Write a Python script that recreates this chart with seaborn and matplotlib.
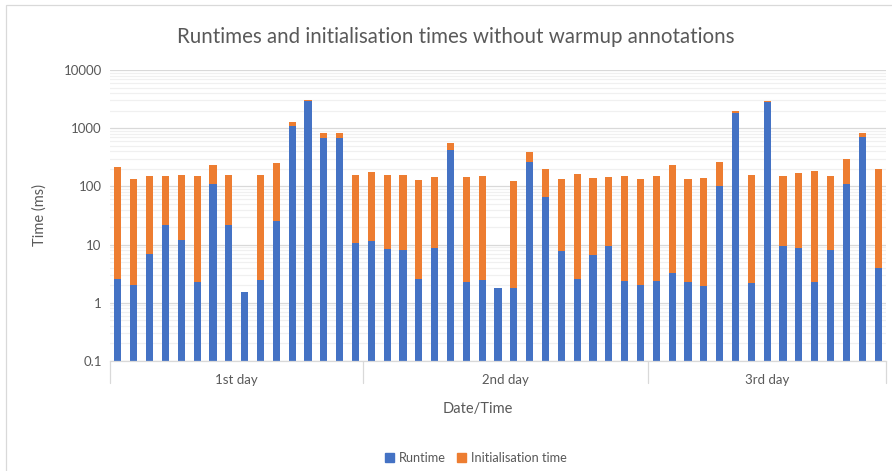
import matplotlib

matplotlib.use("Agg")
import matplotlib.pyplot as plt
import matplotlib.transforms as mtransforms
from matplotlib.patches import Rectangle
from matplotlib.ticker import LogLocator, FixedLocator, FixedFormatter
import pandas as pd
import seaborn as sns

# values (ms)
days = ["1st day", "2nd day", "3rd day"]
runs_per_day = [16, 18, 15]

runtime = [
    2.56, 2.04, 6.9, 22.1, 11.9, 2.24, 111, 21.5, 1.53, 2.43, 25.9, 1097, 2884, 690, 672, 10.7,
    11.7, 8.4, 8.2, 2.56, 8.9, 418, 2.27, 2.49, 1.81, 1.81, 266, 64.6, 7.9, 2.56, 6.7, 9.5, 2.36, 2.04,
    2.33, 3.25, 2.24, 1.94, 103, 1790, 2.18, 2806, 9.6, 8.8, 2.30, 8.2, 108, 700, 3.96,
]
init_time = [
    210, 130, 144, 131, 143, 149, 125, 137, 0, 153, 223, 206, 116, 152, 148, 148,
    167, 147, 149, 124, 134, 133, 145, 149, 0, 123, 125, 134, 126, 158, 134, 137, 149, 134,
    151, 233, 134, 139, 160, 148, 157, 114, 141, 161, 182, 143, 192, 131, 198,
]
y_ticks = [0.1, 1, 10, 100, 1000, 10000]
y_tick_labels = ["0.1", "1", "10", "100", "1000", "10000"]

BLUE = "#4472C4"
ORANGE = "#ED7D31"
TEXT = "#595959"

sns.set_theme(style="white")
plt.rcParams["font.family"] = ["Lato", "DejaVu Sans"]

df = pd.DataFrame({"run": range(len(runtime)), "runtime": runtime, "init": init_time})
df["total"] = df["runtime"] + df["init"]

fig = plt.figure(figsize=(8.92, 4.71), dpi=100)
ax = fig.add_axes([110 / 892, 1 - 361 / 471, 776 / 892, 291 / 471])

sns.barplot(data=df, x="run", y="total", color=ORANGE, width=0.45, saturation=1,
            linewidth=0, ax=ax)
sns.barplot(data=df, x="run", y="runtime", color=BLUE, width=0.45, saturation=1,
            linewidth=0, ax=ax)

ax.set_yscale("log")
ax.set_ylim(0.1, 10000)
ax.set_xlim(-0.5, len(runtime) - 0.5)
ax.yaxis.set_major_locator(FixedLocator(y_ticks))
ax.yaxis.set_major_formatter(FixedFormatter(y_tick_labels))
ax.yaxis.set_minor_locator(LogLocator(base=10, subs=range(2, 10)))
ax.yaxis.set_minor_formatter(FixedFormatter([]))
ax.grid(True, which="major", axis="y", color="#D9D9D9", linewidth=0.9)
ax.grid(True, which="minor", axis="y", color="#F0F0F0", linewidth=0.9)
ax.set_axisbelow(True)
ax.set_xticks([])
ax.set_xlabel("")
ax.set_ylabel("")
ax.tick_params(axis="y", length=0, labelsize=9.5, labelcolor=TEXT, pad=6)
for side in ["top", "right", "left"]:
    ax.spines[side].set_visible(False)
ax.spines["bottom"].set_color("#D9D9D9")
ax.spines["bottom"].set_linewidth(0.9)

# day group labels with separators below the axis
trans = mtransforms.blended_transform_factory(ax.transData, ax.transAxes)
edges = [-0.5]
for n in runs_per_day:
    edges.append(edges[-1] + n)
for e in edges:
    ax.plot([e, e], [0, -22 / 291], transform=trans, color="#D9D9D9", linewidth=0.9, clip_on=False)
for day, a, b in zip(days, edges[:-1], edges[1:]):
    ax.text((a + b) / 2, -19 / 291, day, transform=trans, ha="center", va="center",
            fontsize=9.5, color=TEXT)

fig.text(456 / 892, 1 - 37 / 471, "Runtimes and initialisation times without warmup annotations",
         ha="center", va="center", fontsize=14.8, color=TEXT)
fig.text(40 / 892, 1 - 215 / 471, "Time (ms)", rotation=90, ha="center", va="center",
         fontsize=10.5, color=TEXT)
fig.text(478 / 892, 1 - 409 / 471, "Date/Time", ha="center", va="center", fontsize=10.5, color=TEXT)

handles = [Rectangle((0, 0), 1, 1, color=BLUE), Rectangle((0, 0), 1, 1, color=ORANGE)]
fig.legend(handles, ["Runtime", "Initialisation time"], loc="center", ncol=2,
           bbox_to_anchor=(476 / 892, 1 - 458 / 471), frameon=False, fontsize=9.2,
           handlelength=0.7, handleheight=0.7, handletextpad=0.4, columnspacing=0.9,
           labelcolor=TEXT)

fig.add_artist(Rectangle((6 / 892, -0.1), 1.2, 1 - 5 / 471 + 0.1, transform=fig.transFigure,
                         fill=False, edgecolor="#D9D9D9", linewidth=0.9))

fig.savefig("out.png", dpi=100)
plt.close(fig)
